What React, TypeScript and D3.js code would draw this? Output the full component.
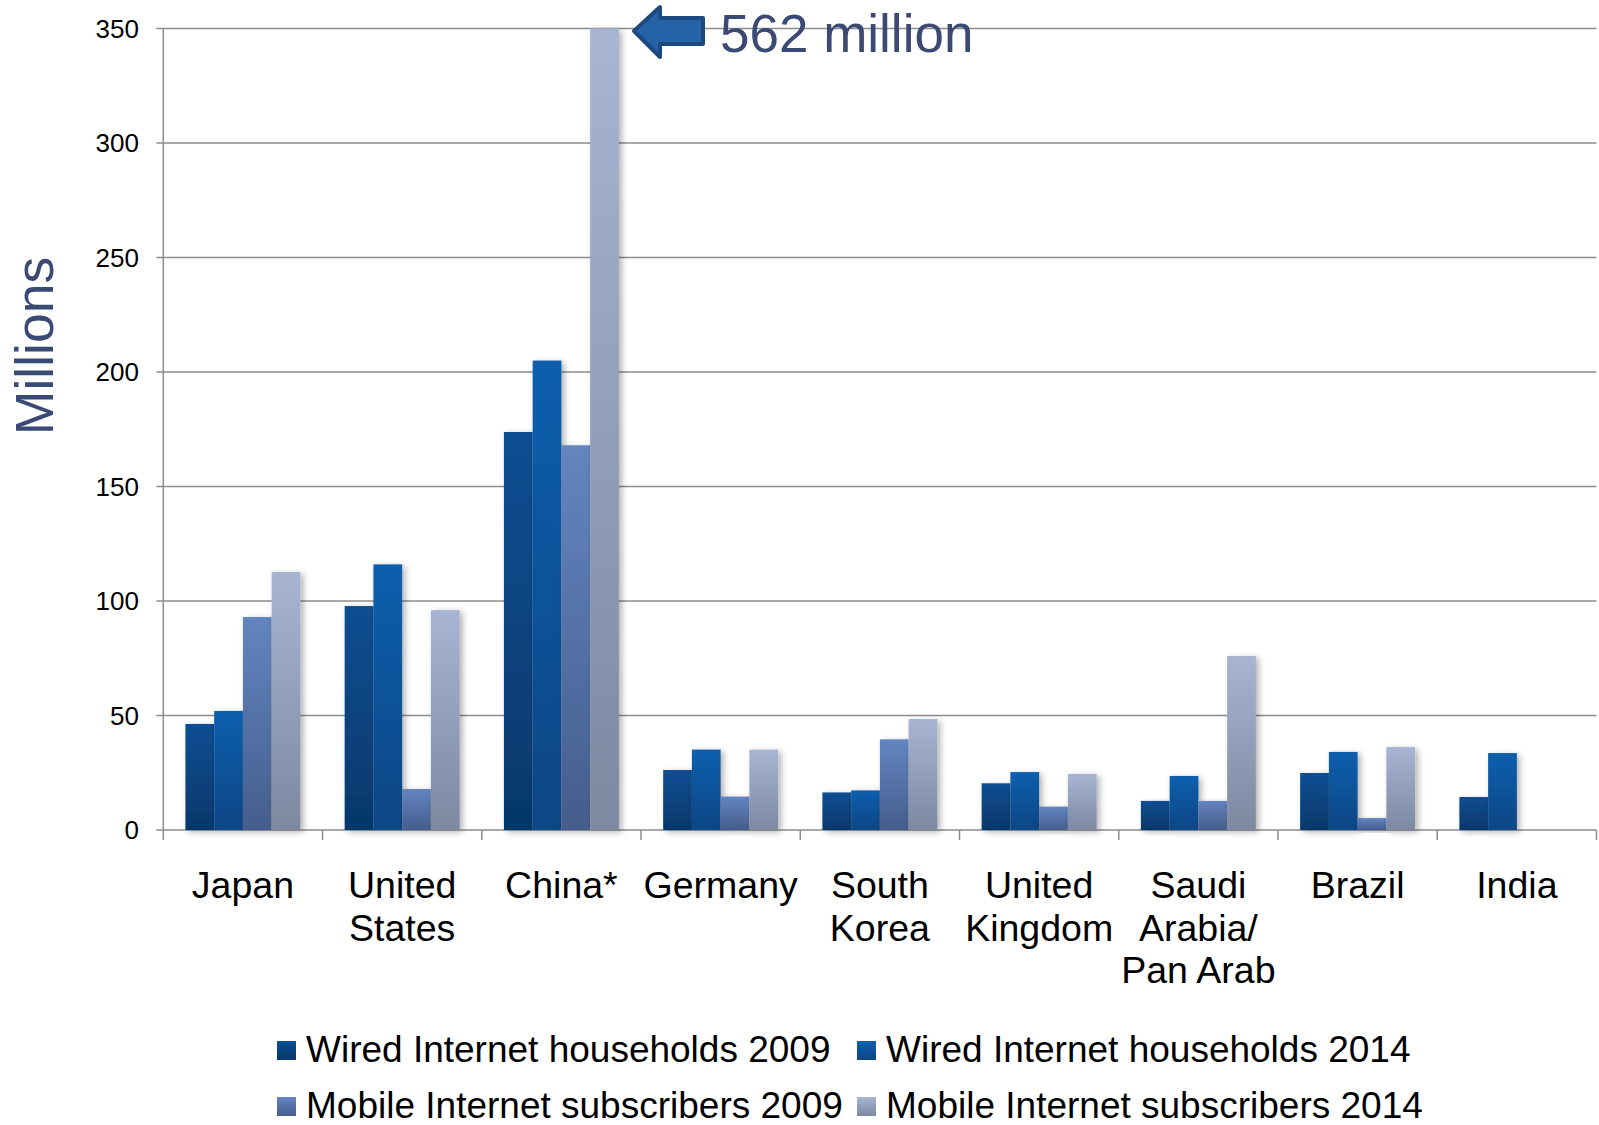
import React from "react";
import * as d3 from "d3";

const categories = ["Japan", "United States", "China*", "Germany", "South Korea", "United Kingdom", "Saudi Arabia/ Pan Arab", "Brazil", "India"];
const categoryLines = [["Japan"], ["United", "States"], ["China*"], ["Germany"], ["South", "Korea"], ["United", "Kingdom"], ["Saudi", "Arabia/", "Pan Arab"], ["Brazil"], ["India"]];
const seriesNames = ["Wired Internet households 2009", "Wired Internet households 2014", "Mobile Internet subscribers 2009", "Mobile Internet subscribers 2014"];
const wired2009 = [46.3, 97.8, 173.8, 26.2, 16.4, 20.4, 12.7, 24.9, 14.4];
const wired2014 = [52, 116, 205, 35.1, 17.3, 25.3, 23.6, 34.1, 33.6];
const mobile2009 = [93, 17.9, 168, 14.6, 39.6, 10.2, 12.7, 5.2, 0];
const mobile2014 = [112.7, 96, 562, 35.1, 48.5, 24.5, 76, 36.2, 0];
const yTicks = [0, 50, 100, 150, 200, 250, 300, 350];
const annotation = "562 million";
const yTitle = "Millions";

const gradTop = ["#0b4e92", "#0f5fae", "#6385c0", "#a7b5d3"];
const gradBottom = ["#06386b", "#0a4684", "#455d8c", "#7d89a1"];

export default function App() {
  const W = 1599, H = 1125;
  const left = 163.3, right = 1596.5, top = 28.5, bottom = 830;
  const series = [wired2009, wired2014, mobile2009, mobile2014];
  const y = d3.scaleLinear().domain([0, 350]).range([bottom, top]).clamp(true);
  const x0 = d3.scaleBand<string>().domain(categories).range([left, right]).paddingInner(0).paddingOuter(0);
  const x1 = d3.scaleBand<number>().domain([0, 1, 2, 3]).range([0, x0.bandwidth()]).paddingInner(0).paddingOuter(0.77);
  const font = "'Liberation Sans', Arial, sans-serif";
  const gridColor = "#8c8c8c";
  const arrowPath = "M634,31 L660,7 L660,18 L703,18 L703,44 L660,44 L660,57 Z";

  return (
    <svg width={W} height={H} style={{ position: "absolute", left: 0, top: 0, background: "#fff" }} fontFamily={font}>
      <defs>
        {gradTop.map((c, i) => (
          <linearGradient key={i} id={`g${i}`} x1="0" y1="0" x2="0" y2="1">
            <stop offset="0" stopColor={c} />
            <stop offset="1" stopColor={gradBottom[i]} />
          </linearGradient>
        ))}
        <filter id="shadow" x="-30%" y="-10%" width="170%" height="130%">
          <feDropShadow dx="3" dy="2" stdDeviation="3" floodColor="#000" floodOpacity="0.3" />
        </filter>
      </defs>
      <rect x={0} y={0} width={W} height={H} fill="#fff" />
      {yTicks.map((t) => (
        <g key={t}>
          <line x1={left - 7} x2={right} y1={y(t)} y2={y(t)} stroke={gridColor} strokeWidth={1.5} />
          <text x={139} y={y(t)} dy="0.36em" textAnchor="end" fontSize={26} fill="#000">{t}</text>
        </g>
      ))}
      <line x1={left} x2={left} y1={top} y2={bottom + 10} stroke={gridColor} strokeWidth={1.5} />
      {categories.map((c, i) => (
        <line key={c} x1={x0(c)! + x0.bandwidth()} x2={x0(c)! + x0.bandwidth()} y1={bottom} y2={bottom + 10} stroke={gridColor} strokeWidth={1.5} />
      ))}
      {categories.map((c, ci) => (
        <g key={c} transform={`translate(${x0(c)},0)`}>
          {series.map((s, si) => {
            const v = s[ci];
            if (!v) return null;
            const yt = y(v);
            return (
              <rect key={si} x={x1(si)} y={yt} width={x1.bandwidth()} height={bottom - yt}
                fill={`url(#g${si})`} filter="url(#shadow)" />
            );
          })}
        </g>
      ))}
      {categories.map((c, ci) => (
        <text key={c} x={x0(c)! + x0.bandwidth() / 2} y={898} textAnchor="middle" fontSize={37.5} fill="#000">
          {categoryLines[ci].map((l, li) => (
            <tspan key={li} x={x0(c)! + x0.bandwidth() / 2} dy={li === 0 ? 0 : 42.5}>{l}</tspan>
          ))}
        </text>
      ))}
      <text transform={`translate(53,346) rotate(-90)`} textAnchor="middle" fontSize={53.5} fill="#3a4a74">{yTitle}</text>
      <path d={arrowPath} fill="#2663a6" stroke="#1b4a80" strokeWidth={4} strokeLinejoin="round" />
      <text x={720} y={52} fontSize={53} fill="#3a4a74">{annotation}</text>
      {seriesNames.map((n, i) => {
        const col = i % 2, row = Math.floor(i / 2);
        const lx = col === 0 ? 277 : 857;
        const ly = row === 0 ? 1041 : 1097;
        return (
          <g key={n}>
            <rect x={lx} y={ly} width={19} height={19} fill={`url(#g${i})`} />
            <text x={lx + 29} y={ly + 21} fontSize={37} fill="#000">{n}</text>
          </g>
        );
      })}
    </svg>
  );
}
